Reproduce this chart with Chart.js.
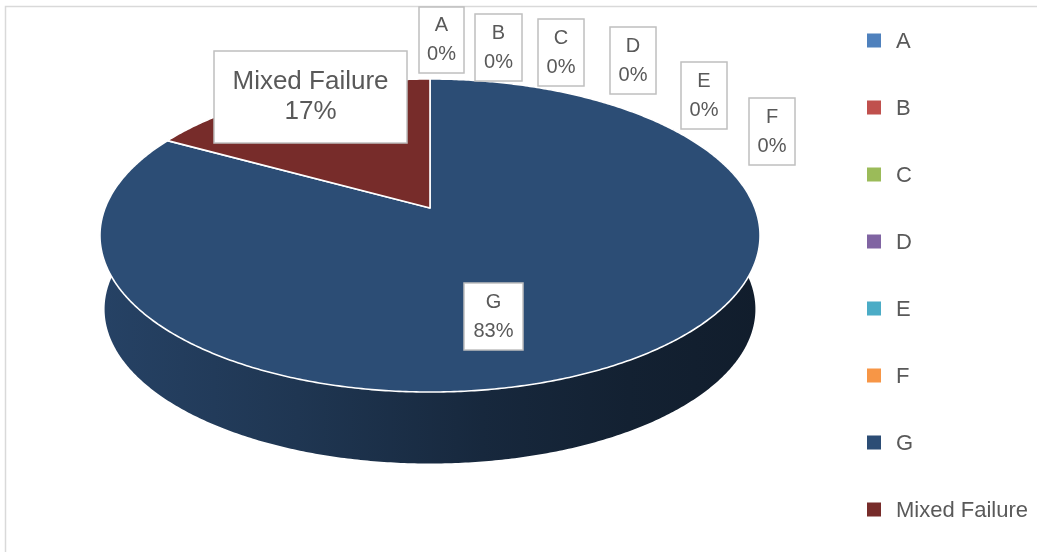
<!DOCTYPE html>
<html>
<head>
<meta charset="utf-8">
<script src="https://cdn.jsdelivr.net/npm/chart.js@4/dist/chart.umd.min.js"></script>
<style>
  html, body { margin: 0; padding: 0; background: #ffffff; }
  #wrap { position: relative; width: 1037px; height: 552px; }
</style>
</head>
<body>
<div id="wrap"><canvas id="chart"></canvas></div>
<script>
// ---- data ----
const categories = ['A', 'B', 'C', 'D', 'E', 'F', 'G', 'Mixed Failure'];
const shares = [0, 0, 0, 0, 0, 0, 83, 17];
const sliceColors = ['#4f81bd', '#c0504d', '#9bbb59', '#8064a2', '#4bacc6', '#f79646', '#2c4d75', '#772c2a'];

// ---- look of the tilted disc (relative to the pie radius) ----
const VIEW = { sx: 1.562, sy: 0.7293, persp: 0.1757, depth: 0.356, baseScale: 0.986 };
const TEXT_GREY = '#595959';
const BOX_EDGE = '#bfbfbf';

// data-label boxes: [left, top, width, height, line gap, font]
const LABEL_BOXES = [
  [419, 7, 45, 66, 29, '20px "Liberation Sans", Arial, sans-serif'],
  [475, 14, 47, 67, 29, '20px "Liberation Sans", Arial, sans-serif'],
  [538, 19, 46, 67, 29, '20px "Liberation Sans", Arial, sans-serif'],
  [610, 27, 46, 67, 29, '20px "Liberation Sans", Arial, sans-serif'],
  [681, 62, 46, 67, 29, '20px "Liberation Sans", Arial, sans-serif'],
  [749, 98, 46, 67, 29, '20px "Liberation Sans", Arial, sans-serif'],
  [464, 283, 59, 67, 29, '20px "Liberation Sans", Arial, sans-serif'],
  [214, 51, 193, 92, 30, '26px "Liberation Sans", Arial, sans-serif']
];

function project(el, ang, scale, drop) {
  const u = Math.cos(ang), v = Math.sin(ang);
  const w = 1 - VIEW.persp * v;
  const R = el.outerRadius * scale;
  return [el.x + VIEW.sx * R * u / w, el.y + drop + VIEW.sy * R * v / w];
}

function shade(hex, f) {
  const n = parseInt(hex.slice(1), 16);
  const r = Math.round(((n >> 16) & 255) * f);
  const g = Math.round(((n >> 8) & 255) * f);
  const b = Math.round((n & 255) * f);
  return `rgb(${r},${g},${b})`;
}

// draws each arc element as the top of a tilted, perspective disc with a shaded rim
const pie3d = {
  id: 'pie3d',
  beforeDraw(chart) {
    const ctx = chart.ctx;
    ctx.save();
    ctx.strokeStyle = '#d9d9d9';
    ctx.lineWidth = 1.5;
    ctx.strokeRect(5.5, 6.5, 1200, 700);
    ctx.restore();
  },
  beforeDatasetsDraw(chart) {
    const ctx = chart.ctx;
    const meta = chart.getDatasetMeta(0);
    const arcs = meta.data;
    const step = Math.PI / 360;
    ctx.save();
    // rim
    arcs.forEach((el, i) => {
      const a0 = el.startAngle, a1 = el.endAngle;
      if (a1 - a0 <= 1e-6) return;
      const drop = el.outerRadius * VIEW.depth;
      const left = el.x - el.outerRadius * VIEW.sx * 1.02;
      const right = el.x + el.outerRadius * VIEW.sx * 1.02;
      const grad = ctx.createLinearGradient(left, 0, right, 0);
      const col = el.options.backgroundColor;
      grad.addColorStop(0, shade(col, 0.86));
      grad.addColorStop(0.3, shade(col, 0.7));
      grad.addColorStop(0.58, shade(col, 0.52));
      grad.addColorStop(0.8, shade(col, 0.43));
      grad.addColorStop(1, shade(col, 0.38));
      ctx.beginPath();
      let p = project(el, a0, 1, 0);
      ctx.moveTo(p[0], p[1]);
      for (let a = a0; a < a1; a += step) { p = project(el, a, 1, 0); ctx.lineTo(p[0], p[1]); }
      p = project(el, a1, 1, 0); ctx.lineTo(p[0], p[1]);
      for (let a = a1; a > a0; a -= step) { p = project(el, a, VIEW.baseScale, drop); ctx.lineTo(p[0], p[1]); }
      p = project(el, a0, VIEW.baseScale, drop); ctx.lineTo(p[0], p[1]);
      ctx.closePath();
      ctx.fillStyle = grad;
      ctx.fill();
    });
    // top faces
    arcs.forEach((el) => {
      const a0 = el.startAngle, a1 = el.endAngle;
      if (a1 - a0 <= 1e-6) return;
      ctx.beginPath();
      ctx.moveTo(el.x, el.y);
      for (let a = a0; a < a1; a += step) { const p = project(el, a, 1, 0); ctx.lineTo(p[0], p[1]); }
      const p = project(el, a1, 1, 0); ctx.lineTo(p[0], p[1]);
      ctx.closePath();
      ctx.fillStyle = el.options.backgroundColor;
      ctx.fill();
      ctx.lineJoin = 'round';
      ctx.strokeStyle = '#ffffff';
      ctx.lineWidth = 1.6;
      ctx.stroke();
    });
    ctx.restore();
    return false;
  },
  afterDraw(chart) {
    const ctx = chart.ctx;
    const values = chart.data.datasets[0].data;
    const total = values.reduce((s, v) => s + v, 0);
    ctx.save();
    // data labels
    values.forEach((v, i) => {
      const [x, y, w, h, gap, font] = LABEL_BOXES[i];
      ctx.fillStyle = '#ffffff';
      ctx.fillRect(x, y, w, h);
      ctx.strokeStyle = BOX_EDGE;
      ctx.lineWidth = 1.5;
      ctx.strokeRect(x, y, w, h);
      ctx.fillStyle = TEXT_GREY;
      ctx.font = font;
      ctx.textAlign = 'center';
      ctx.textBaseline = 'middle';
      const cx = x + w / 2, cy = y + h / 2;
      ctx.fillText(chart.data.labels[i], cx, cy - gap / 2);
      ctx.fillText(Math.round(v / total * 100) + '%', cx, cy + gap / 2);
    });
    // legend
    ctx.font = '22px "Liberation Sans", Arial, sans-serif';
    ctx.textAlign = 'left';
    ctx.textBaseline = 'middle';
    chart.data.labels.forEach((lab, i) => {
      const y = 40.5 + 67 * i;
      ctx.fillStyle = chart.data.datasets[0].backgroundColor[i];
      ctx.fillRect(867, y - 7, 14, 14);
      ctx.fillStyle = TEXT_GREY;
      ctx.fillText(lab, 896, y + 1);
    });
    ctx.restore();
  }
};

new Chart(document.getElementById('chart'), {
  type: 'pie',
  data: {
    labels: categories,
    datasets: [{
      data: shares,
      backgroundColor: sliceColors,
      borderWidth: 0
    }]
  },
  options: {
    responsive: true,
    maintainAspectRatio: false,
    animation: false,
    layout: { padding: { left: 0, right: 177, top: 0, bottom: 136 } },
    plugins: {
      legend: { display: false },
      tooltip: { enabled: false }
    }
  },
  plugins: [pie3d]
});
</script>
</body>
</html>
